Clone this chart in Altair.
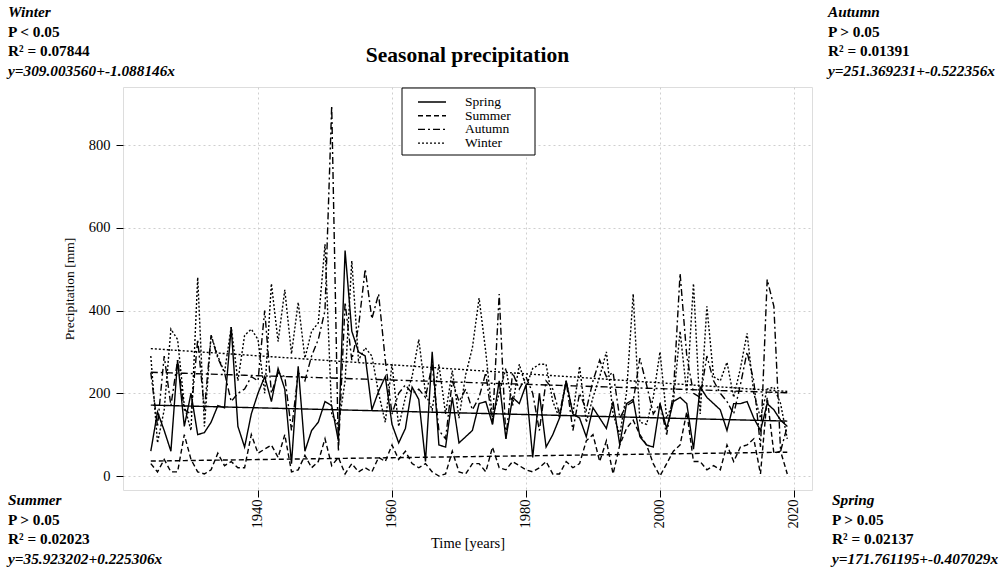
import altair as alt
import pandas as pd

# ---- seasonal precipitation totals [mm], 1924-2019 ----
years = list(range(1924, 2020))

spring = [60, 155, 110, 60, 280, 120, 200, 100, 105, 130,
          170, 165, 360, 120, 70, 150, 200, 240, 180, 260,
          210, 30, 265, 60, 110, 130, 180, 170, 85, 545,
          350, 300, 290, 160, 205, 240, 125, 80, 115, 215,
          185, 35, 300, 75, 70, 190, 80, 95, 110, 175,
          180, 125, 230, 90, 190, 175, 220, 45, 200, 70,
          100, 140, 230, 150, 140, 95, 165, 140, 115, 180,
          75, 175, 185, 95, 75, 70, 175, 115, 180, 190,
          175, 65, 215, 190, 175, 160, 110, 175, 175, 180,
          140, 110, 175, 160, 135, 120]

summer = [30, 10, 40, 10, 10, 100, 40, 10, 5, 15,
          55, 25, 35, 20, 20, 100, 55, 65, 75, 45,
          100, 10, 15, 50, 20, 35, 90, 25, 45, 5,
          30, 10, 20, 10, 45, 35, 75, 40, 60, 30,
          20, 30, 10, 0, 5, 60, 10, 5, 30, 30,
          10, 70, 20, 15, 35, 25, 15, 10, 20, 35,
          5, 5, 35, 20, 30, 85, 100, 35, 85, 5,
          75, 115, 135, 100, 75, 30, 0, 30, 60, 75,
          155, 35, 35, 15, 25, 15, 75, 35, 70, 75,
          90, 5, 190, 55, 60, 5]

autumn = [250, 120, 290, 170, 280, 160, 150, 330, 160, 340,
          285, 250, 180, 200, 210, 240, 230, 400, 200, 250,
          240, 110, 250, 230, 290, 330, 400, 895, 60, 420,
          280, 360, 500, 380, 440, 280, 150, 200, 220, 200,
          210, 190, 270, 110, 90, 230, 180, 210, 160, 190,
          250, 125, 440, 90, 250, 210, 240, 200, 110, 230,
          210, 150, 230, 110, 200, 160, 230, 280, 240, 250,
          140, 170, 180, 285, 220, 150, 175, 100, 200, 490,
          290, 200, 190, 290, 230, 200, 180, 150, 220, 300,
          230, 70, 475, 410, 60, 120]

winter = [290, 80, 160, 355, 330, 170, 110, 480, 120, 340,
          290, 250, 360, 230, 340, 355, 330, 200, 465, 325,
          450, 295, 420, 285, 350, 370, 560, 150, 120, 230,
          520, 280, 310, 290, 200, 130, 270, 120, 190, 240,
          330, 200, 160, 270, 150, 255, 140, 245, 310, 430,
          300, 140, 200, 260, 170, 270, 215, 260, 270, 270,
          180, 140, 230, 150, 265, 130, 190, 240, 300, 150,
          100, 200, 440, 130, 125, 190, 300, 140, 180, 350,
          200, 465, 150, 410, 240, 230, 275, 190, 260, 345,
          200, 140, 210, 215, 175, 90]

seasons = ["Spring", "Summer", "Autumn", "Winter"]
series = {"Spring": spring, "Summer": summer, "Autumn": autumn, "Winter": winter}

# linear trends: y = intercept + slope * x, x = 1 .. n (year index)
intercepts = {"Spring": 171.761195, "Summer": 35.923202, "Autumn": 251.369231, "Winter": 309.003560}
slopes = {"Spring": -0.407029, "Summer": 0.225306, "Autumn": -0.522356, "Winter": -1.088146}
p_text = {"Spring": "P > 0.05", "Summer": "P > 0.05", "Autumn": "P > 0.05", "Winter": "P < 0.05"}
r2_text = {"Spring": "0.02137", "Summer": "0.02023", "Autumn": "0.01391", "Winter": "0.07844"}
eq_text = {"Spring": "y=171.761195+-0.407029x", "Summer": "y=35.923202+0.225306x",
           "Autumn": "y=251.369231+-0.522356x", "Winter": "y=309.003560+-1.088146x"}

x_ticks = [1940, 1960, 1980, 2000, 2020]
y_ticks = [0, 200, 400, 600, 800]

dashes = [[1, 0], [5, 3], [7, 3, 2, 3], [2, 2]]

rows, trend_rows = [], []
for s in seasons:
    for i, (yr, v) in enumerate(zip(years, series[s])):
        rows.append({"season": s, "year": yr, "value": v})
        trend_rows.append({"season": s, "year": yr,
                           "value": intercepts[s] + slopes[s] * (i + 1)})
data = pd.DataFrame(rows)
trend = pd.DataFrame(trend_rows)

W, H = 689, 403
SERIF = "Liberation Serif"
LW = 1.4

x_scale = alt.Scale(domain=[1919.85, 2022.69], nice=False, zero=False)
y_scale = alt.Scale(domain=[-33.8, 940.2], nice=False, zero=False)
dash_scale = alt.Scale(domain=seasons, range=dashes)

x_enc = alt.X("year:Q", scale=x_scale,
              axis=alt.Axis(values=x_ticks, format="d", labelAngle=270, title="Time [years]",
                            grid=True, gridDash=[2, 3], gridColor="#cfcfcf", domain=False,
                            tickSize=7, tickColor="black", labelPadding=2, titlePadding=8,
                            labelFont=SERIF, labelFontSize=14.5, labelColor="black",
                            titleFont=SERIF, titleFontSize=14.5, titleFontWeight="normal",
                            titleColor="black"))
y_enc = alt.Y("value:Q", scale=y_scale,
              axis=alt.Axis(values=y_ticks, format="d", labelAngle=0, title="Precipitation [mm]",
                            grid=True, gridDash=[2, 3], gridColor="#cfcfcf", domain=False,
                            tickSize=7, tickColor="black", labelPadding=6, titlePadding=12,
                            labelFont=SERIF, labelFontSize=14.5, labelColor="black",
                            titleFont=SERIF, titleFontSize=13.5, titleFontWeight="normal",
                            titleColor="black"))

lines = alt.Chart(data).mark_line(color="black", strokeWidth=LW).encode(
    x=x_enc, y=y_enc,
    strokeDash=alt.StrokeDash("season:N", scale=dash_scale, legend=None),
    detail="season:N",
)

trend_lines = alt.Chart(trend).mark_line(color="black", strokeWidth=LW).encode(
    x=alt.X("year:Q", scale=x_scale),
    y=alt.Y("value:Q", scale=y_scale),
    strokeDash=alt.StrokeDash("season:N", scale=dash_scale, legend=None),
    detail="season:N",
)

one = pd.DataFrame({"k": [0]})
layers = [lines, trend_lines]

# legend box inside the top of the plot
layers.append(alt.Chart(one).mark_rect(fill="white", stroke="black", strokeWidth=1).encode(
    x=alt.value(279), x2=alt.value(412), y=alt.value(1), y2=alt.value(68)))
for j, s in enumerate(seasons):
    yy = 15 + j * 13.7
    layers.append(alt.Chart(one).mark_rule(color="black", strokeWidth=LW, strokeDash=dashes[j]).encode(
        x=alt.value(295), x2=alt.value(323), y=alt.value(yy)))
    layers.append(alt.Chart(one).mark_text(text=s, font=SERIF, fontSize=13.5, align="left",
                                           baseline="middle", color="black").encode(
        x=alt.value(342), y=alt.value(yy)))

# title
layers.append(alt.Chart(one).mark_text(text="Seasonal precipitation", font=SERIF, fontSize=21.5,
                                       fontWeight="bold", align="center", baseline="middle",
                                       color="black").encode(
    x=alt.value(W / 2), y=alt.value(-31)))

# regression summaries in the four corners
corner_pos = {"Winter": (-115, -75), "Autumn": (705, -75), "Summer": (-115, 413), "Spring": (709, 413)}
for s in seasons:
    cx, cy = corner_pos[s]
    texts = [(s, "italic"), (p_text[s], "normal"), ("R\u00b2 = " + r2_text[s], "normal"),
             (eq_text[s], "italic")]
    for k, (t, style) in enumerate(texts):
        layers.append(alt.Chart(one).mark_text(text=t, font=SERIF, fontSize=15.3, fontWeight="bold",
                                               fontStyle=style, align="left", baseline="middle",
                                               color="black").encode(
            x=alt.value(cx), y=alt.value(cy + k * 19.7)))

chart = alt.layer(*layers).properties(
    width=W, height=H,
    autosize=alt.AutoSizeParams(type="none"),
    padding={"left": 123, "top": 87, "right": 191, "bottom": 78},
).configure_view(stroke="black", strokeWidth=1).configure(background="white")

chart.save("out.html", embed_options={"renderer": "svg", "actions": False})
